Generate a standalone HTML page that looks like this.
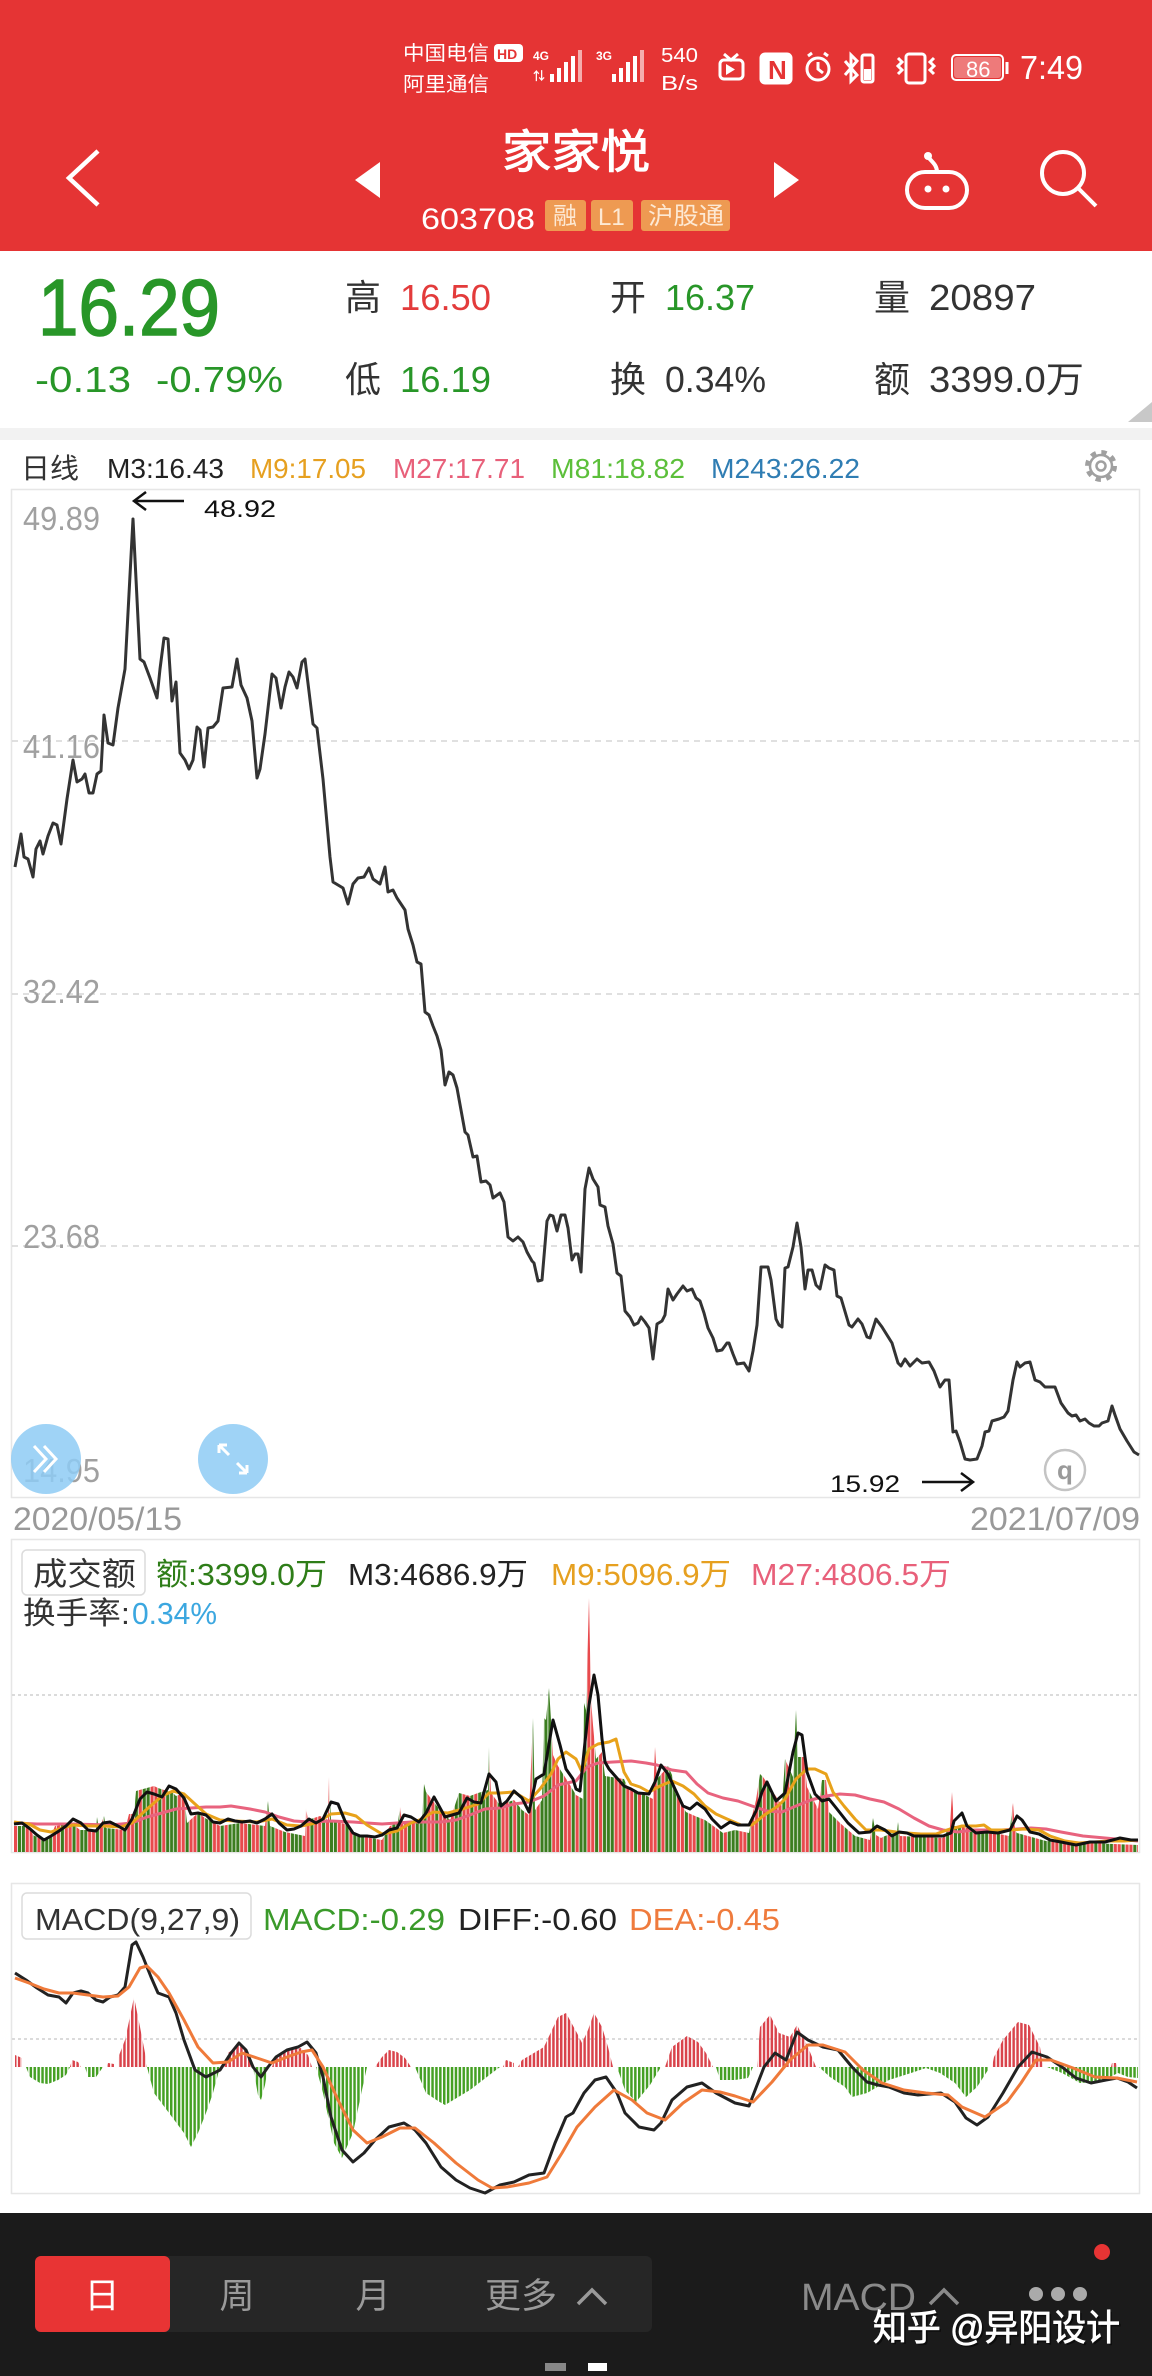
<!DOCTYPE html>
<html><head><meta charset="utf-8">
<style>
html,body{margin:0;padding:0;background:#fff;}
body{width:1152px;height:2376px;overflow:hidden;position:relative;}
svg{position:absolute;left:0;top:0;display:block;}
text{font-family:"Liberation Sans","Noto Sans CJK SC",sans-serif;}
</style></head>
<body>
<svg width="1152" height="2376" viewBox="0 0 1152 2376" xmlns="http://www.w3.org/2000/svg">
<defs>
<pattern id="vp" x="14" y="0" width="62.4" height="20" patternUnits="userSpaceOnUse">
<rect x="0" width="3.1" height="20" fill="#e84a4d"/>
<rect x="3.9" width="3.1" height="20" fill="#3b7d1f"/>
<rect x="7.8" width="3.1" height="20" fill="#3b7d1f"/>
<rect x="11.7" width="3.1" height="20" fill="#e84a4d"/>
<rect x="15.6" width="3.1" height="20" fill="#e84a4d"/>
<rect x="19.5" width="3.1" height="20" fill="#3b7d1f"/>
<rect x="23.4" width="3.1" height="20" fill="#e84a4d"/>
<rect x="27.3" width="3.1" height="20" fill="#3b7d1f"/>
<rect x="31.2" width="3.1" height="20" fill="#3b7d1f"/>
<rect x="35.1" width="3.1" height="20" fill="#3b7d1f"/>
<rect x="39" width="3.1" height="20" fill="#e84a4d"/>
<rect x="42.9" width="3.1" height="20" fill="#e84a4d"/>
<rect x="46.8" width="3.1" height="20" fill="#3b7d1f"/>
<rect x="50.7" width="3.1" height="20" fill="#e84a4d"/>
<rect x="54.6" width="3.1" height="20" fill="#e84a4d"/>
<rect x="58.5" width="3.1" height="20" fill="#3b7d1f"/>
</pattern>
<pattern id="mr" x="14" y="0" width="3.9" height="10" patternUnits="userSpaceOnUse"><rect width="2.5" height="10" fill="#d9434b"/></pattern>
<pattern id="mg" x="14" y="0" width="3.9" height="10" patternUnits="userSpaceOnUse"><rect width="2.5" height="10" fill="#45a024"/></pattern>
</defs>

<!-- header -->
<rect x="0" y="0" width="1152" height="251" fill="#e53434"/>
<!-- status bar -->
<g fill="#fff">
<text x="403" y="60" font-size="20" textLength="86" lengthAdjust="spacingAndGlyphs">中国电信</text>
<text x="403" y="91" font-size="20" textLength="86" lengthAdjust="spacingAndGlyphs">阿里通信</text>
<rect x="494" y="44" width="29" height="18" rx="4"/>
<text x="497" y="59" font-size="14" font-weight="bold" fill="#e53434">HD</text>
<text x="533" y="60" font-size="12" font-weight="bold">4G</text>
<text x="533" y="80" font-size="12" font-weight="bold">⇅</text>
<rect x="550" y="74" width="4" height="8"/><rect x="557" y="68" width="4" height="14"/><rect x="564" y="62" width="4" height="20"/><rect x="571" y="56" width="4" height="26"/><rect x="578" y="50" width="4" height="32" opacity="0.6"/>
<text x="596" y="60" font-size="12" font-weight="bold">3G</text>
<rect x="612" y="74" width="4" height="8"/><rect x="619" y="68" width="4" height="14"/><rect x="626" y="62" width="4" height="20"/><rect x="633" y="56" width="4" height="26"/><rect x="640" y="50" width="4" height="32" opacity="0.6"/>
<text x="661" y="62" font-size="20" textLength="37" lengthAdjust="spacingAndGlyphs">540</text>
<text x="661" y="90" font-size="20" textLength="37" lengthAdjust="spacingAndGlyphs">B/s</text>
</g>
<g fill="none" stroke="#fff" stroke-width="3">
<rect x="720" y="60" width="23" height="19" rx="4"/>
<path d="M724 54 L731 60 L738 54"/>
<rect x="761" y="54" width="30" height="29" rx="4" fill="#fff"/>
<circle cx="818" cy="69" r="11"/>
<path d="M818 62 V69 L823 73"/>
<path d="M808 56 l4 -3 M828 56 l-4 -3"/>
<path d="M845 61 L857 75 L851 81 V55 L857 61 L845 75"/>
<rect x="862" y="55" width="11" height="27" rx="2"/>
<rect x="906" y="54" width="19" height="29" rx="3"/>
<path d="M898 58 l4 4 l-4 4 l4 4 l-4 4 M934 58 l-4 4 l4 4 l-4 4 l4 4"/>
<rect x="952" y="55" width="51" height="25" rx="4" stroke-width="2"/>
<path d="M1007 62 V74" stroke-width="3"/>
</g>
<path d="M726 64 L726 75 L735 69.5 Z" fill="#fff"/>
<text x="768" y="79" font-size="26" font-weight="bold" fill="#e53434">N</text>
<rect x="864" y="69" width="7" height="11" fill="#fff"/>
<rect x="954" y="57" width="47" height="21" rx="3" fill="#fff" opacity="0.35"/>
<text x="966" y="77" font-size="22" fill="#fff">86</text>
<text x="1020" y="79" font-size="33" fill="#fff" textLength="63" lengthAdjust="spacingAndGlyphs">7:49</text>

<!-- nav -->
<polyline points="98,151 69,178 98,205" fill="none" stroke="#fff" stroke-width="4.5"/>
<polygon points="380,162 355,180 380,198" fill="#fff"/>
<polygon points="774,162 799,180 774,198" fill="#fff"/>
<text x="576" y="168" font-size="46" fill="#fff" stroke="#fff" stroke-width="1" text-anchor="middle" textLength="148" lengthAdjust="spacingAndGlyphs">家家悦</text>
<text x="421" y="229" font-size="30" fill="#fff" textLength="114" lengthAdjust="spacingAndGlyphs">603708</text>
<rect x="545" y="200" width="41" height="31" rx="3" fill="#ee9a52"/>
<text x="553" y="224" font-size="24" fill="#fde9d4">融</text>
<rect x="591" y="200" width="42" height="31" rx="3" fill="#ee9a52"/>
<text x="598" y="225" font-size="24" fill="#fde9d4">L1</text>
<rect x="641" y="200" width="89" height="31" rx="3" fill="#ee9a52"/>
<text x="648" y="224" font-size="24" fill="#fde9d4" textLength="76" lengthAdjust="spacingAndGlyphs">沪股通</text>
<g fill="none" stroke="#fff" stroke-width="4">
<rect x="907" y="172" width="60" height="36" rx="18"/>
<path d="M937 172 C937 165 932 162 929 158"/>
</g>
<circle cx="928" cy="156" r="4" fill="#fff"/>
<circle cx="928" cy="189" r="3.5" fill="#fff"/><circle cx="946" cy="189" r="3.5" fill="#fff"/>
<circle cx="1063" cy="173" r="21" fill="none" stroke="#fff" stroke-width="4"/>
<line x1="1078" y1="188" x2="1096" y2="206" stroke="#fff" stroke-width="4"/>

<!-- quote area -->
<text x="38" y="335" font-size="80" fill="#289628" stroke="#289628" stroke-width="1.5" textLength="182" lengthAdjust="spacingAndGlyphs">16.29</text>
<text x="35" y="392" font-size="36" fill="#289628" textLength="96" lengthAdjust="spacingAndGlyphs">-0.13</text>
<text x="156" y="392" font-size="36" fill="#289628" textLength="127" lengthAdjust="spacingAndGlyphs">-0.79%</text>
<text x="345" y="310" font-size="36" fill="#333">高</text>
<text x="400" y="310" font-size="36" fill="#e33b3b" textLength="91" lengthAdjust="spacingAndGlyphs">16.50</text>
<text x="345" y="392" font-size="36" fill="#333">低</text>
<text x="400" y="392" font-size="36" fill="#289628" textLength="91" lengthAdjust="spacingAndGlyphs">16.19</text>
<text x="610" y="310" font-size="36" fill="#333">开</text>
<text x="665" y="310" font-size="36" fill="#289628" textLength="90" lengthAdjust="spacingAndGlyphs">16.37</text>
<text x="610" y="392" font-size="36" fill="#333">换</text>
<text x="665" y="392" font-size="36" fill="#333" textLength="101" lengthAdjust="spacingAndGlyphs">0.34%</text>
<text x="874" y="310" font-size="36" fill="#333">量</text>
<text x="929" y="310" font-size="36" fill="#333" textLength="107" lengthAdjust="spacingAndGlyphs">20897</text>
<text x="874" y="392" font-size="36" fill="#333">额</text>
<text x="929" y="392" font-size="36" fill="#333" textLength="155" lengthAdjust="spacingAndGlyphs">3399.0万</text>
<polygon points="1128,422 1152,402 1152,422" fill="#c8c8c8"/>
<rect x="0" y="428" width="1152" height="12" fill="#f2f2f2"/>

<!-- MA legend -->
<text x="21" y="478" font-size="28" fill="#333" textLength="58" lengthAdjust="spacingAndGlyphs">日线</text>
<text x="107" y="478" font-size="28" fill="#222" textLength="117" lengthAdjust="spacingAndGlyphs">M3:16.43</text>
<text x="250" y="478" font-size="28" fill="#e6a020" textLength="116" lengthAdjust="spacingAndGlyphs">M9:17.05</text>
<text x="393" y="478" font-size="28" fill="#e8607a" textLength="132" lengthAdjust="spacingAndGlyphs">M27:17.71</text>
<text x="551" y="478" font-size="28" fill="#5cbf3a" textLength="134" lengthAdjust="spacingAndGlyphs">M81:18.82</text>
<text x="711" y="478" font-size="28" fill="#2f7db3" textLength="149" lengthAdjust="spacingAndGlyphs">M243:26.22</text>
<g fill="none" stroke="#a0a0a0">
<circle cx="1101" cy="466" r="13" stroke-width="6" stroke-dasharray="5 5.2"/>
<circle cx="1101" cy="466" r="11" stroke-width="2.5"/>
<circle cx="1101" cy="466" r="4.5" stroke-width="2.5"/>
</g>

<!-- price chart -->
<rect x="11.5" y="489.5" width="1128" height="1008" fill="none" stroke="#e6e6e6" stroke-width="1.5"/>
<g stroke="#d6d6d6" stroke-width="1.5" stroke-dasharray="6 5">
<line x1="12" y1="741" x2="1139" y2="741"/>
<line x1="12" y1="994" x2="1139" y2="994"/>
<line x1="12" y1="1246" x2="1139" y2="1246"/>
</g>
<g font-size="33" fill="#a0a0a0">
<text x="23" y="530" textLength="77" lengthAdjust="spacingAndGlyphs">49.89</text>
<text x="23" y="758" textLength="77" lengthAdjust="spacingAndGlyphs">41.16</text>
<text x="23" y="1003" textLength="77" lengthAdjust="spacingAndGlyphs">32.42</text>
<text x="23" y="1248" textLength="77" lengthAdjust="spacingAndGlyphs">23.68</text>
<text x="23" y="1482" textLength="77" lengthAdjust="spacingAndGlyphs">14.95</text>
</g>
<polyline fill="none" stroke="#333" stroke-width="3" stroke-linejoin="round" points="15,867 21,834 24,857 28,859 33,877 36,849 40,841 43,854 48,836 53,823 57,825 61,844 67,799 73,760 77,782 82,779 85,774 89,793 93,793 97,774 101,771 104,715 108,743 113,745 118,708 125,669 133,519 140,659 144,662 150,678 157,698 160,669 164,638 168,639 172,701 176,682 180,753 185,760 189,769 193,760 197,727 200,730 204,767 208,728 213,727 218,721 223,688 232,687 237,659 241,685 247,698 252,721 257,778 260,769 265,734 272,674 276,678 281,708 285,687 289,672 293,677 297,688 302,662 305,659 313,724 317,728 323,779 330,857 333,882 343,888 348,904 353,884 358,878 364,877 369,868 373,879 380,884 385,867 388,892 393,890 397,898 405,910 408,929 413,945 417,962 421,964 425,1012 429,1015 433,1026 437,1036 441,1050 445,1085 449,1072 453,1075 457,1088 465,1132 468,1135 473,1157 477,1156 481,1182 486,1181 490,1185 493,1198 500,1193 504,1202 508,1237 513,1241 518,1237 523,1242 527,1252 532,1261 534,1263 538,1281 542,1280 547,1221 550,1215 553,1216 557,1231 561,1215 565,1215 568,1228 572,1260 575,1254 578,1254 581,1272 585,1189 589,1168 593,1179 598,1187 600,1205 605,1207 608,1226 613,1244 617,1273 621,1276 625,1311 630,1317 634,1325 638,1323 641,1317 645,1322 649,1328 653,1359 657,1324 662,1321 665,1315 668,1289 673,1300 677,1294 683,1286 687,1291 692,1289 696,1298 700,1301 704,1313 708,1328 713,1338 717,1351 722,1350 727,1343 729,1343 733,1354 737,1364 744,1363 749,1371 753,1351 757,1325 761,1267 768,1267 771,1280 776,1319 779,1325 782,1327 785,1268 788,1267 793,1247 797,1223 801,1247 805,1289 808,1270 812,1270 816,1285 820,1289 825,1265 829,1268 834,1270 837,1296 841,1298 849,1325 852,1327 858,1319 862,1324 867,1337 870,1338 876,1319 882,1327 892,1343 898,1363 901,1366 905,1359 910,1366 917,1359 922,1363 929,1362 934,1371 940,1387 945,1380 949,1380 953,1432 956,1431 960,1442 965,1459 970,1460 977,1459 982,1446 985,1432 989,1431 992,1421 999,1419 1004,1417 1008,1411 1013,1380 1017,1362 1020,1367 1025,1363 1030,1362 1035,1380 1040,1382 1045,1387 1055,1387 1061,1403 1068,1413 1072,1416 1076,1415 1080,1421 1085,1419 1089,1423 1094,1426 1099,1426 1102,1423 1108,1421 1112,1406 1115,1415 1120,1429 1127,1441 1134,1452 1139,1455"/>
<!-- annotations -->
<g stroke="#111" stroke-width="2.5" fill="none">
<line x1="134" y1="501" x2="184" y2="501"/><polyline points="146,492 134,501 146,510"/>
<line x1="922" y1="1482" x2="973" y2="1482"/><polyline points="961,1473 973,1482 961,1491"/>
</g>
<text x="204" y="517" font-size="24" fill="#111" textLength="72" lengthAdjust="spacingAndGlyphs">48.92</text>
<text x="830" y="1492" font-size="24" fill="#111" textLength="70" lengthAdjust="spacingAndGlyphs">15.92</text>
<circle cx="1065" cy="1470" r="20" fill="#fff" stroke="#c4c4c4" stroke-width="2.5"/>
<text x="1065" y="1479" font-size="26" fill="#9a9a9a" text-anchor="middle" font-weight="bold">q</text>
<circle cx="46" cy="1459" r="35" fill="#8ecbf4" opacity="0.85"/>
<polyline points="34,1446 46,1459 34,1472" fill="none" stroke="#fff" stroke-width="3"/>
<polyline points="44,1446 56,1459 44,1472" fill="none" stroke="#fff" stroke-width="3"/>
<circle cx="233" cy="1459" r="35" fill="#8ecbf4" opacity="0.85"/>
<g fill="none" stroke="#fff" stroke-width="3">
<path d="M219 1445 L229 1455 M219 1445 h8 M219 1445 v8"/>
<path d="M247 1473 L237 1463 M247 1473 h-8 M247 1473 v-8"/>
</g>

<!-- dates -->
<text x="13" y="1530" font-size="32" fill="#999" textLength="169" lengthAdjust="spacingAndGlyphs">2020/05/15</text>
<text x="970" y="1530" font-size="32" fill="#999" textLength="170" lengthAdjust="spacingAndGlyphs">2021/07/09</text>

<!-- volume panel -->
<rect x="11.5" y="1539.5" width="1128" height="313" fill="none" stroke="#e6e6e6" stroke-width="1.5"/>
<line x1="12" y1="1695" x2="1139" y2="1695" stroke="#cfcfcf" stroke-width="1.5" stroke-dasharray="3 3"/>
<rect x="22" y="1550" width="123" height="45" rx="5" fill="#fff" stroke="#dcdcdc" stroke-width="1.5"/>
<text x="33" y="1585" font-size="32" fill="#333" textLength="103" lengthAdjust="spacingAndGlyphs">成交额</text>
<text x="156" y="1585" font-size="31" fill="#2e7d18" textLength="171" lengthAdjust="spacingAndGlyphs">额:3399.0万</text>
<text x="348" y="1585" font-size="31" fill="#222" textLength="180" lengthAdjust="spacingAndGlyphs">M3:4686.9万</text>
<text x="551" y="1585" font-size="31" fill="#e6a020" textLength="180" lengthAdjust="spacingAndGlyphs">M9:5096.9万</text>
<text x="751" y="1585" font-size="31" fill="#e8607a" textLength="200" lengthAdjust="spacingAndGlyphs">M27:4806.5万</text>
<text x="23" y="1624" font-size="31" fill="#333" textLength="107" lengthAdjust="spacingAndGlyphs">换手率:</text>
<text x="132" y="1624" font-size="31" fill="#3ba7e0" textLength="85" lengthAdjust="spacingAndGlyphs">0.34%</text>
<path fill="url(#vp)" d="M14,1852 L14,1826 L29,1826 L33,1835 L45,1841 L51,1836 L55,1826 L73,1824 L80,1830 L96,1830 L97,1817 L99,1830 L104,1816 L106,1828 L125,1830 L129,1814 L134,1814 L136,1791 L154,1786 L158,1788 L173,1793 L176,1796 L184,1793 L187,1823 L198,1813 L205,1818 L220,1826 L240,1823 L265,1826 L268,1801 L270,1826 L285,1832 L305,1836 L306,1808 L308,1820 L320,1816 L328,1820 L329,1777 L331,1820 L345,1824 L353,1833 L370,1838 L382,1840 L390,1826 L398,1822 L400,1807 L402,1822 L408,1823 L422,1820 L424,1784 L426,1792 L440,1810 L450,1820 L459,1793 L470,1796 L478,1793 L488,1790 L489,1747 L491,1793 L500,1805 L514,1800 L522,1810 L529,1815 L533,1718 L535,1810 L542,1800 L544,1718 L546,1720 L549,1688 L551,1720 L553,1755 L558,1766 L570,1785 L576,1795 L583,1799 L584,1703 L586,1710 L589,1598 L591,1700 L593,1725 L596,1759 L602,1752 L605,1776 L624,1779 L627,1786 L653,1799 L655,1747 L657,1779 L665,1770 L668,1766 L672,1775 L675,1793 L686,1812 L695,1816 L705,1820 L723,1833 L735,1830 L749,1833 L752,1816 L756,1800 L760,1774 L763,1777 L772,1790 L782,1806 L785,1759 L793,1777 L796,1710 L798,1757 L804,1757 L807,1787 L818,1809 L822,1780 L826,1780 L829,1812 L840,1823 L855,1836 L870,1840 L873,1818 L876,1835 L881,1838 L885,1836 L897,1832 L898,1822 L900,1836 L943,1838 L950,1826 L952,1792 L954,1826 L980,1830 L1009,1836 L1013,1803 L1015,1830 L1017,1833 L1046,1841 L1090,1843 L1138,1845 L1138,1852 Z"/>
<g fill="none" stroke-width="3" stroke-linejoin="round">
<polyline stroke="#e8637e" points="14,1823 37,1824 73,1824 110,1825 132,1823 147,1817 162,1813 176,1809 191,1808 206,1807 220,1807 231,1806 250,1809 265,1812 279,1817 294,1821 309,1822 331,1821 353,1822 367,1823 382,1824 397,1823 411,1822 426,1822 441,1822 456,1820 470,1815 485,1809 500,1808 514,1804 529,1802 544,1796 558,1785 576,1781 587,1767 598,1763 613,1762 631,1761 646,1763 657,1765 672,1770 686,1772 697,1784 708,1793 723,1798 738,1801 752,1806 767,1811 782,1812 796,1806 811,1800 826,1796 840,1794 855,1795 870,1799 884,1802 899,1809 914,1818 929,1826 943,1830 958,1832 973,1830 987,1830 1002,1830 1017,1829 1031,1828 1046,1829 1061,1832 1083,1836 1105,1838 1127,1840 1138,1841"/>
<polyline stroke="#e8a21a" points="14,1822 29,1824 40,1830 51,1832 62,1828 73,1825 88,1826 103,1826 121,1827 132,1823 147,1809 162,1796 173,1791 184,1794 195,1804 206,1814 220,1820 235,1821 257,1822 272,1819 287,1825 301,1826 316,1823 331,1814 345,1813 356,1816 367,1825 382,1834 397,1831 411,1823 422,1819 433,1812 448,1813 463,1809 478,1804 489,1793 500,1793 514,1792 529,1801 540,1789 551,1774 558,1759 566,1752 576,1759 582,1772 589,1749 598,1744 609,1742 616,1739 624,1772 631,1784 640,1787 649,1792 660,1786 672,1781 683,1786 694,1794 705,1806 716,1814 727,1819 741,1825 752,1825 763,1816 778,1806 785,1799 796,1779 807,1769 815,1769 826,1774 833,1792 844,1806 855,1819 866,1830 881,1830 896,1832 907,1833 921,1834 936,1834 947,1830 962,1826 976,1826 984,1825 991,1830 1010,1830 1024,1829 1039,1830 1050,1836 1065,1841 1079,1843 1094,1842 1109,1841 1124,1841 1138,1840"/>
<polyline stroke="#111" points="14,1824 22,1823 29,1828 37,1835 44,1840 51,1836 59,1831 66,1826 73,1819 81,1823 88,1830 96,1831 103,1823 110,1822 118,1826 125,1830 132,1819 140,1799 147,1792 154,1794 162,1797 169,1786 176,1789 184,1798 191,1814 198,1813 206,1815 213,1822 220,1823 228,1819 235,1821 242,1822 250,1821 257,1823 265,1819 272,1814 279,1823 287,1830 294,1829 301,1826 309,1819 316,1823 323,1819 331,1802 338,1804 345,1821 353,1833 360,1836 367,1836 375,1837 382,1835 389,1830 397,1828 404,1815 411,1817 419,1822 426,1813 434,1797 439,1806 445,1817 452,1815 459,1813 467,1798 474,1802 481,1803 489,1774 496,1782 501,1806 507,1801 514,1791 522,1798 529,1812 536,1779 544,1774 553,1720 560,1745 566,1769 573,1779 576,1789 580,1791 585,1742 589,1705 594,1675 598,1695 602,1739 605,1762 609,1769 616,1777 624,1786 631,1789 638,1793 649,1794 655,1782 661,1765 668,1774 675,1789 683,1806 690,1809 697,1803 705,1809 712,1819 721,1828 730,1822 738,1825 749,1825 756,1811 762,1792 767,1782 776,1801 785,1793 793,1752 798,1733 802,1735 807,1772 815,1794 822,1801 829,1799 837,1809 848,1823 859,1833 870,1832 877,1826 885,1830 892,1836 899,1832 907,1833 914,1836 929,1836 943,1836 951,1833 954,1821 962,1813 967,1826 976,1833 987,1832 998,1833 1010,1830 1017,1816 1022,1820 1030,1832 1039,1834 1050,1840 1061,1842 1076,1845 1090,1842 1105,1842 1120,1838 1131,1840 1138,1840"/>
</g>

<!-- MACD panel -->
<rect x="11.5" y="1883.5" width="1128" height="310" fill="none" stroke="#e6e6e6" stroke-width="1.5"/>
<line x1="12" y1="2039" x2="1139" y2="2039" stroke="#cfcfcf" stroke-width="1.5" stroke-dasharray="3 3"/>
<rect x="22" y="1893" width="229" height="46" rx="5" fill="#fff" stroke="#dcdcdc" stroke-width="1.5"/>
<text x="35" y="1930" font-size="31" fill="#333" textLength="205" lengthAdjust="spacingAndGlyphs">MACD(9,27,9)</text>
<text x="263" y="1930" font-size="31" fill="#3a9a2a" textLength="182" lengthAdjust="spacingAndGlyphs">MACD:-0.29</text>
<text x="458" y="1930" font-size="31" fill="#222" textLength="159" lengthAdjust="spacingAndGlyphs">DIFF:-0.60</text>
<text x="629" y="1930" font-size="31" fill="#ef7b3d" textLength="151" lengthAdjust="spacingAndGlyphs">DEA:-0.45</text>
<path fill="url(#mr)" d="M15,2067 L15,2055 L22,2058 L22,2067 Z M70,2067 L72,2060 L78,2062 L81,2067 Z M107,2067 L108,2063 L114,2064 L114,2067 Z M118,2067 L118,2058 L125,2040 L132,2007 L134,1997 L140,2027 L145,2053 L147,2067 Z M224,2067 L228,2053 L239,2045 L246,2050 L253,2067 Z M272,2067 L276,2057 L290,2050 L301,2048 L308,2055 L312,2067 Z M375,2067 L382,2057 L389,2050 L397,2052 L405,2058 L411,2067 Z M503,2067 L506,2060 L514,2063 L514,2067 Z M518,2067 L522,2060 L544,2047 L558,2017 L566,2013 L577,2033 L582,2043 L588,2030 L594,2013 L602,2027 L608,2047 L613,2067 Z M665,2067 L672,2047 L687,2036 L698,2042 L706,2053 L713,2067 Z M757,2067 L760,2027 L770,2015 L779,2033 L790,2037 L797,2025 L808,2047 L816,2067 Z M992,2067 L994,2057 L1003,2040 L1018,2022 L1029,2025 L1040,2047 L1043,2067 Z M1111,2067 L1112,2063 L1116,2063 L1117,2067 Z"/>
<path fill="url(#mg)" d="M26,2067 L30,2077 L40,2083 L48,2084 L58,2080 L66,2075 L70,2067 Z M85,2067 L88,2077 L96,2077 L103,2067 Z M147,2067 L154,2093 L169,2113 L184,2133 L191,2147 L198,2133 L206,2113 L213,2093 L220,2067 Z M253,2067 L258,2095 L261,2100 L265,2085 L268,2067 Z M316,2067 L323,2093 L334,2143 L342,2158 L353,2133 L362,2090 L367,2067 Z M415,2067 L426,2093 L438,2101 L445,2105 L470,2090 L492,2073 L500,2067 Z M617,2067 L625,2090 L636,2102 L650,2085 L661,2067 Z M716,2067 L720,2080 L735,2080 L748,2078 L753,2067 Z M819,2067 L830,2077 L845,2087 L852,2097 L867,2093 L889,2080 L911,2073 L926,2068 L940,2073 L955,2083 L966,2097 L977,2087 L988,2070 L988,2067 Z M1047,2067 L1062,2073 L1080,2083 L1095,2082 L1110,2077 L1118,2073 L1128,2077 L1138,2078 L1138,2067 Z"/>
<g fill="none" stroke-width="3" stroke-linejoin="round">
<polyline stroke="#222" points="15,1973 26,1980 37,1988 48,1995 59,1997 66,2003 73,1993 81,1991 88,1993 96,2000 103,2002 110,1997 118,1995 125,1987 132,1945 136,1942 143,1957 151,1977 158,1993 169,1997 176,2013 184,2040 195,2070 206,2077 220,2070 231,2053 239,2043 246,2050 253,2067 261,2077 268,2067 276,2057 287,2050 298,2047 307,2042 316,2053 323,2077 331,2117 342,2150 353,2162 364,2153 375,2140 389,2127 404,2123 415,2130 426,2143 441,2167 456,2180 470,2188 485,2193 500,2185 514,2182 529,2175 544,2173 555,2143 566,2117 573,2113 584,2093 595,2080 606,2077 617,2093 625,2113 639,2127 654,2130 661,2123 672,2100 687,2087 702,2083 716,2093 735,2103 749,2106 764,2067 775,2053 786,2060 797,2032 808,2040 823,2047 838,2050 852,2067 867,2082 878,2085 889,2087 904,2093 918,2095 941,2093 955,2102 966,2118 977,2125 988,2117 1003,2093 1018,2067 1032,2052 1047,2057 1062,2067 1076,2078 1091,2083 1106,2080 1117,2078 1128,2082 1137,2088"/>
<polyline stroke="#ef7a3a" points="15,1978 29,1983 44,1989 59,1993 73,1993 88,1995 103,1997 118,1996 129,1987 140,1968 147,1966 158,1977 169,1993 184,2020 198,2047 213,2063 228,2062 242,2053 257,2058 272,2063 287,2057 301,2052 312,2050 323,2067 338,2100 353,2130 367,2143 382,2137 400,2128 415,2128 434,2143 456,2163 478,2180 492,2188 507,2187 529,2183 547,2177 562,2153 577,2127 595,2107 614,2090 632,2100 647,2113 665,2120 683,2103 702,2090 720,2092 735,2096 753,2102 772,2082 790,2060 808,2045 823,2045 845,2052 863,2070 882,2083 904,2090 926,2093 948,2095 962,2107 985,2117 1007,2102 1021,2083 1036,2060 1051,2060 1073,2068 1095,2077 1117,2078 1137,2082"/>
</g>

<!-- bottom bar -->
<rect x="0" y="2213" width="1152" height="163" fill="#1b1b1b"/>
<rect x="35" y="2256" width="617" height="76" rx="6" fill="#262626"/>
<rect x="35" y="2256" width="135" height="76" rx="6" fill="#e83434"/>
<text x="102" y="2308" font-size="35" fill="#fff" text-anchor="middle">日</text>
<text x="237" y="2308" font-size="35" fill="#9a9a9a" text-anchor="middle">周</text>
<text x="373" y="2308" font-size="35" fill="#9a9a9a" text-anchor="middle">月</text>
<text x="485" y="2308" font-size="35" fill="#9a9a9a" textLength="72" lengthAdjust="spacingAndGlyphs">更多</text>
<polyline points="578,2304 592,2290 606,2304" fill="none" stroke="#9a9a9a" stroke-width="3.5"/>
<text x="801" y="2310" font-size="38" fill="#8a8a8a" textLength="115" lengthAdjust="spacingAndGlyphs">MACD</text>
<polyline points="930,2304 944,2290 958,2304" fill="none" stroke="#8a8a8a" stroke-width="3.5"/>
<circle cx="1036" cy="2294" r="7" fill="#aaa"/><circle cx="1058" cy="2294" r="7" fill="#aaa"/><circle cx="1080" cy="2294" r="7" fill="#aaa"/>
<circle cx="1102" cy="2252" r="8" fill="#e83434"/>
<text x="875" y="2342" font-size="36" fill="#000" opacity="0.5" textLength="247" lengthAdjust="spacingAndGlyphs">知乎 @异阳设计</text>
<text x="873" y="2340" font-size="36" fill="#fff" stroke="#fff" stroke-width="0.8" textLength="247" lengthAdjust="spacingAndGlyphs">知乎 @异阳设计</text>
<rect x="545" y="2363" width="21" height="8" fill="#888"/>
<rect x="588" y="2363" width="19" height="8" fill="#fff"/>
</svg>
</body></html>
